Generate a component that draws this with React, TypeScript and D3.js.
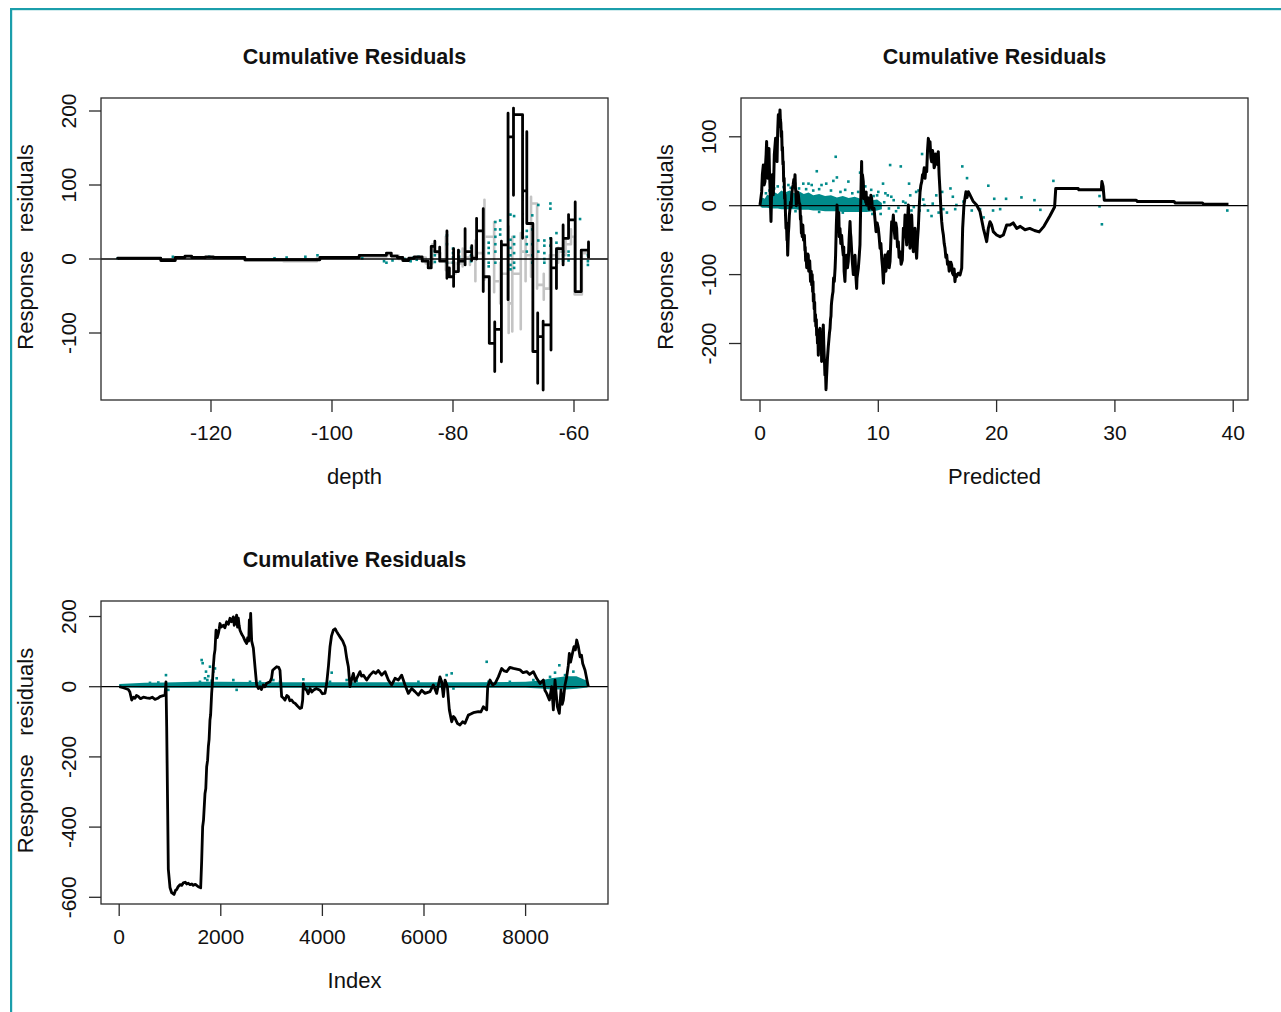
import React from 'react';
import * as d3 from 'd3';

const FONT = '"Liberation Sans", Arial, Helvetica, sans-serif';
const TEAL = '#008b8b';
const FRAME = '#1b9eab';

// ---- panel 1: cumulative residuals vs depth ----
const depthTicks = [-120, -100, -80, -60];
const depthResTicks = [-100, 0, 100, 200];
// [depth, partial sums walked at that depth..., value carried to next depth]
const depthBlack: number[][] = [
  [-135.4, 0, 1], [-128.3, -2], [-125.9, 2], [-124.3, 4], [-123.2, 2], [-120.9, 3],
  [-119.6, 2], [-114.4, -1], [-102.0, 2], [-95.5, 5], [-91.0, 8], [-90.2, 4],
  [-89.2, 2], [-88.3, -2], [-87.3, 1], [-86.4, 3], [-85.1, -3], [-84.1, -12],
  [-83.6, 17], [-83.0, 24, 10], [-82.2, 16, -3], [-81.0, 38, -26, -12], [-80.6, -24],
  [-79.9, 14, -37, -17], [-79.1, 12, -3], [-78.0, 41, -8, 10], [-76.9, 18, -2, 1],
  [-76.1, 55, 0, 38], [-75.0, 68, -44, -24], [-74.0, -114], [-73.1, -152, -85, -95],
  [-72.0, -139, 24, 19], [-70.9, -55, 197, 165], [-70.0, 86, 204, 195], [-68.5, 28, 92],
  [-67.8, 172, 48], [-66.8, -125], [-66.0, -73, -168, -105], [-65.1, -84, -177, -89],
  [-63.8, -123, 28, -12], [-62.9, 14, -40, 14], [-61.8, 46, -8, 28], [-60.9, 60, 53],
  [-59.8, 77, -44], [-58.8, 12], [-57.6, 23, 1],
];
const depthGray: number[][] = [
  [-135.4, 0, 1], [-128.3, -1], [-125.9, 2], [-121.0, 1], [-114.4, -2], [-108.0, -3],
  [-102.5, 1], [-95.5, 3], [-91.0, 5], [-89.0, 0], [-86.5, 2], [-84.5, -6],
  [-83.4, 20, 8], [-82.1, -2], [-81.2, 30, -15, -5], [-79.6, -20, -6], [-78.4, 14, -10, 2],
  [-77.2, -8, 4], [-76.3, 25, -30, 8], [-74.8, 80, -28, 30], [-73.2, 50, -45, -30],
  [-72.2, -5, -60, -20], [-70.8, 44, -100, -60], [-70.2, 30, -98, -20], [-68.8, 35, -95, 10],
  [-68.0, 30, -30, 5], [-67.1, 84, -24, 75], [-66.1, -10, -40, -35], [-65.0, -20, -55, -40],
  [-64.0, -15, 5], [-62.6, 15, -5, 10], [-61.4, 25, 5, 20], [-60.5, 40, 30],
  [-59.9, -48], [-58.7, 8], [-57.6, 20, 0],
];
const depthPoints: [number, number][] = [
  [-135.4, 1], [-126.3, 3], [-120.3, 3], [-109.5, 1], [-107.5, 2], [-104.4, 3], [-102.4, 5],
  [-95.0, 1], [-91.4, -3], [-91.0, -5], [-90.0, -2], [-89.0, 2], [-88.0, 0], [-87.0, -3],
  [-86.5, 2], [-86.0, -1], [-85.7, 3], [-85.0, -2],
  [-83.0, 10], [-83.0, 5], [-83.0, -4], [-81.0, 32], [-81.0, 20], [-81.0, -5],
  [-80.0, 14], [-80.0, 8], [-80.0, 2], [-80.0, -5], [-79.0, 10], [-79.0, 3], [-79.0, -3],
  [-77.0, 15], [-77.0, 5], [-77.0, -3],
  [-74.1, 22], [-74.1, 15], [-74.1, 8], [-74.1, -5], [-74.1, -10],
  [-73.0, 50], [-73.0, 40], [-73.0, 30], [-73.0, 20], [-73.0, 10], [-73.0, -5],
  [-72.2, 52], [-72.2, 40], [-72.2, 33],
  [-70.5, 60], [-70.5, 26], [-70.5, 15], [-70.5, 5], [-70.5, -8], [-70.5, -14],
  [-69.9, 58], [-69.9, 30], [-69.9, 20], [-69.9, 8], [-69.9, -5], [-69.9, -12],
  [-67.8, 38], [-67.8, 30], [-67.8, 20], [-67.8, 10],
  [-66.9, 59], [-66.9, 40], [-66.9, 20], [-66.9, 5], [-66.9, -5],
  [-65.9, 73], [-65.9, 25], [-65.9, 10],
  [-64.9, 25], [-64.9, 18], [-64.9, 8], [-64.9, 0], [-64.9, -5],
  [-63.9, 75], [-63.9, 68], [-63.9, 28], [-63.9, 18],
  [-62.9, 35], [-62.9, 22], [-62.9, 10], [-62.9, 0],
  [-61.8, 10], [-61.8, 5], [-61.8, -2], [-60.9, 10], [-60.9, 5], [-60.9, -2],
  [-59.0, 54], [-57.7, 5], [-57.7, -3], [-57.7, -8],
];

// ---- panel 2: cumulative residuals vs predicted ----
const predTicks = [0, 10, 20, 30, 40];
const predResTicks = [-200, -100, 0, 100];
const predBlack: [number, number][] = [
  [0, 1], [0.07, 10], [0.14, 20], [0.2, 45], [0.28, 59], [0.32, 40], [0.35, 30], [0.42, 35],
  [0.47, 60], [0.52, 75], [0.56, 93], [0.6, 55], [0.65, 40], [0.7, 65], [0.76, 83], [0.8, 50],
  [0.85, 25], [0.89, 0], [0.93, -23], [0.98, 20], [1.04, 45], [1.08, 30], [1.13, 16],
  [1.17, 45], [1.21, 74], [1.26, 85], [1.32, 98], [1.38, 70], [1.44, 64], [1.47, 90],
  [1.5, 110], [1.55, 132], [1.58, 118], [1.62, 115], [1.66, 130], [1.69, 139], [1.72, 125],
  [1.76, 120], [1.8, 100], [1.83, 108], [1.87, 80], [1.9, 85], [1.94, 60], [1.97, 64],
  [2.0, 35], [2.04, 40], [2.08, 10], [2.11, 16], [2.16, -15], [2.2, -33], [2.24, -25],
  [2.28, -50], [2.31, -45], [2.34, -72], [2.37, -55], [2.4, -40], [2.44, -30], [2.48, -14],
  [2.53, -5], [2.58, 5], [2.63, -2], [2.68, 16], [2.74, 25], [2.8, 30], [2.86, 38],
  [2.9, 28], [2.96, 45], [3.0, 25], [3.03, 20], [3.07, 0], [3.1, 6], [3.17, 20], [3.24, 16],
  [3.3, 5], [3.38, 1], [3.42, -20], [3.45, -15], [3.5, -40], [3.52, -33], [3.57, -45],
  [3.62, -28], [3.68, -50], [3.75, -43], [3.8, -65], [3.82, -60], [3.86, -80], [3.89, -72],
  [3.95, -90], [4.0, -80], [4.04, -70], [4.08, -72], [4.12, -95], [4.15, -88], [4.2, -80],
  [4.23, -91], [4.27, -110], [4.3, -105], [4.33, -95], [4.37, -115], [4.41, -100],
  [4.45, -125], [4.48, -110], [4.51, -139], [4.55, -128], [4.58, -150], [4.62, -140],
  [4.65, -168], [4.69, -158], [4.72, -175], [4.76, -165], [4.79, -188], [4.83, -180],
  [4.86, -200], [4.9, -190], [4.93, -217], [4.97, -195], [5.0, -205], [5.04, -180],
  [5.07, -178], [5.11, -200], [5.14, -205], [5.18, -185], [5.21, -226], [5.25, -210],
  [5.28, -200], [5.32, -190], [5.35, -173], [5.39, -200], [5.42, -215], [5.46, -230],
  [5.49, -246], [5.53, -235], [5.58, -267], [5.62, -250], [5.65, -240], [5.69, -225],
  [5.72, -217], [5.77, -205], [5.82, -195], [5.87, -185], [5.92, -178], [5.96, -165],
  [6.0, -160], [6.03, -145], [6.06, -139], [6.12, -130], [6.17, -125], [6.22, -105],
  [6.28, -110], [6.35, -90], [6.39, -72], [6.45, -30], [6.51, 1], [6.56, -15], [6.62, -23],
  [6.66, -10], [6.7, -45], [6.76, -33], [6.83, -55], [6.9, -43], [6.97, -60], [7.04, -72],
  [7.08, -60], [7.11, -95], [7.18, -110], [7.22, -90], [7.25, -85], [7.32, -72], [7.39, -90],
  [7.46, -81], [7.53, -50], [7.61, -23], [7.65, -40], [7.68, -45], [7.75, -67], [7.82, -85],
  [7.89, -100], [7.93, -85], [7.96, -80], [8.03, -72], [8.1, -100], [8.17, -120], [8.2, -105],
  [8.24, -100], [8.31, -91], [8.38, -75], [8.45, -57], [8.52, 10], [8.59, 64], [8.62, 30],
  [8.66, 45], [8.73, 35], [8.77, 10], [8.8, 20], [8.87, 16], [8.94, 5], [8.97, 20],
  [9.01, 1], [9.08, 12], [9.15, 11], [9.22, -5], [9.3, 1], [9.37, 15],
  [9.44, 10.6], [9.5, -5], [9.64, -3.9], [9.72, -20], [9.81, -37.7], [9.9, -25], [10.0, -32.8],
  [10.07, -45], [10.15, -61.8], [10.22, -55], [10.29, -76.3], [10.36, -90], [10.43, -112.6],
  [10.5, -85], [10.57, -71.5], [10.64, -95], [10.71, -86], [10.78, -70], [10.85, -66.7],
  [10.92, -90], [10.99, -81.2], [11.06, -50], [11.13, -23.2], [11.2, -30], [11.27, -13.5],
  [11.34, -35], [11.41, -47.3], [11.48, -25], [11.55, -32.8], [11.62, -60], [11.69, -52.2],
  [11.76, -75], [11.84, -66.7], [11.93, -85], [12.03, -78.8], [12.12, -32.8], [12.19, -45],
  [12.26, -13.5], [12.33, -40], [12.4, -57], [12.47, -20], [12.54, 1], [12.61, -30],
  [12.68, -61.8], [12.75, -35], [12.82, -13.5], [12.89, -45], [12.96, -66.7], [13.03, -45],
  [13.1, -32.8], [13.17, -60], [13.24, -76.3], [13.31, -50], [13.38, -32.8], [13.45, -5],
  [13.53, 20.3], [13.6, 30], [13.67, 34.8], [13.74, 45], [13.81, 44.5], [13.88, 55],
  [13.95, 39.7], [14.02, 55], [14.09, 49.4], [14.16, 80], [14.23, 97.7], [14.3, 85],
  [14.37, 92.9], [14.44, 70], [14.51, 63.9], [14.58, 80], [14.65, 73.6], [14.72, 55],
  [14.79, 59.1], [14.86, 75], [14.93, 63.9], [15.0, 60], [15.07, 78.4], [15.14, 45],
  [15.22, 20.3], [15.29, -5], [15.36, -23.2], [15.43, -35], [15.5, -42.5], [15.57, -55],
  [15.64, -61.8], [15.71, -75], [15.78, -71.5], [15.85, -85], [15.92, -81.2], [15.99, -95],
  [16.06, -90.8], [16.13, -82], [16.2, -86], [16.27, -98], [16.34, -100.5], [16.41, -92],
  [16.48, -110.2], [16.55, -100], [16.62, -103], [16.76, -98], [16.91, -100.5],
  [17.05, -90.8], [17.13, -32.8], [17.24, 1], [17.32, 10], [17.41, 20.3], [17.5, 12],
  [17.61, 20.3], [17.75, 15.7], [18.03, 6], [18.31, 1], [18.6, -8.7], [18.88, -32.8],
  [19.02, -42.5], [19.16, -52.2], [19.3, -32.8], [19.44, -23.2], [19.58, -28], [19.72, -37.7],
  [20.0, -42.5], [20.29, -45], [20.57, -42.5], [20.85, -28], [21.13, -28], [21.4, -25],
  [21.7, -33], [22.0, -30], [22.4, -35], [22.8, -33], [23.2, -36], [23.6, -38], [24.0, -30],
  [24.5, -15], [24.9, -2], [25.0, 25], [26.9, 25], [26.95, 23], [28.85, 23], [28.9, 35],
  [29.0, 28], [29.1, 8], [31.8, 8], [31.9, 6], [35.0, 6], [35.1, 4], [37.4, 4], [37.5, 2],
  [39.6, 2],
];
// overplotted residual cloud: [predicted, low, high]
const predBand: [number, number, number][] = [
  [0.05, -2, 5], [0.2, -3, 12], [0.4, -3, 10], [0.6, -3, 16], [0.9, -4, 14], [1.2, -4, 20],
  [1.5, -4, 17], [1.8, -5, 22], [2.1, -5, 19], [2.5, -5, 22], [2.9, -5, 18], [3.3, -6, 21],
  [3.7, -6, 17], [4.1, -6, 19], [4.5, -7, 15], [5.0, -7, 17], [5.5, -8, 14], [6.0, -8, 15],
  [6.5, -8, 12], [7.0, -9, 14], [7.5, -9, 11], [8.0, -9, 13], [8.5, -9, 10], [9.0, -9, 12],
  [9.5, -8, 8], [9.9, -7, 9], [10.3, -5, 4],
];
const predPoints: [number, number][] = [
  [0.5, 18], [0.8, 22], [1.2, 25], [1.5, 28], [1.83, 17], [2.0, 27], [2.4, 30], [2.6, 26],
  [2.96, 32], [3.3, 25], [3.66, 32], [3.9, 24], [4.1, 32], [4.37, 30], [4.5, 22], [4.8, 50],
  [5.0, 24], [5.2, 30], [5.6, 32], [6.0, 22], [6.2, 36], [6.4, 71], [6.5, 41], [6.8, 20],
  [7.2, 23], [7.47, 35], [7.8, 18], [8.3, 20], [8.46, 48], [8.9, 28], [9.4, 23], [9.6, 14],
  [3.0, -8], [5.0, -9], [7.0, -10], [8.5, -9], [9.5, -12], [9.9, 15], [10.0, 20], [10.2, -12],
  [10.4, 32], [10.6, 18], [10.8, 15], [11.0, 59], [11.1, 13], [11.5, -8], [11.9, 57],
  [12.1, 6], [12.6, 32], [12.7, 15], [12.8, -7], [13.2, 20], [13.4, 22], [13.5, -7],
  [13.7, 75], [13.9, 1], [14.2, -7], [14.5, -15], [14.9, 15], [15.1, -10], [15.4, 20],
  [15.5, -5], [15.8, -10], [16.1, 25], [16.3, 13], [16.5, -5], [16.6, 1], [17.1, 57],
  [17.2, 6], [17.5, 40], [17.9, -7], [18.6, -5], [18.9, -17], [19.3, 29], [19.7, -7],
  [19.8, 10], [20.3, -5], [20.8, 10], [22.1, 12], [23.2, 8], [23.7, -6], [24.8, 36],
  [28.7, 14], [28.7, -1], [28.9, -27], [39.5, -7],
  [10.5, 5], [10.9, -4], [11.3, 8], [11.7, -3], [12.3, 4], [13.0, -2], [13.8, 9], [14.6, 3],
];

// ---- panel 3: cumulative residuals vs index ----
const indexTicks = [0, 2000, 4000, 6000, 8000];
const indexResTicks = [-600, -400, -200, 0, 200];
const indexBlack: [number, number][] = [
  [3, 0], [82, -3], [180, -8], [210, -15], [246, -38], [280, -30], [311, -33], [340, -25],
  [377, -28], [420, -34], [475, -30], [540, -32], [606, -33], [650, -30], [705, -36],
  [760, -33], [803, -28], [850, -26], [902, -24], [921, 14], [935, -114], [954, -349],
  [967, -520], [1000, -572], [1033, -587], [1079, -592], [1110, -580], [1131, -578],
  [1160, -570], [1197, -564], [1230, -566], [1263, -559], [1300, -557], [1328, -562],
  [1360, -560], [1394, -564], [1430, -562], [1459, -566], [1500, -563], [1558, -570],
  [1604, -573], [1623, -499], [1643, -399], [1660, -380], [1689, -304], [1705, -290],
  [1722, -228], [1740, -210], [1755, -171], [1770, -150], [1787, -95], [1800, -80],
  [1820, -19], [1835, 10], [1853, 57], [1870, 90], [1886, 105], [1906, 161], [1930, 140],
  [1952, 152], [1970, 165], [1984, 180], [2010, 170], [2050, 175], [2080, 168], [2116, 185],
  [2150, 178], [2181, 195], [2210, 185], [2247, 199], [2265, 175], [2280, 180], [2300, 195],
  [2312, 204], [2330, 170], [2345, 195], [2360, 175], [2378, 161], [2410, 150], [2444, 142],
  [2480, 130], [2509, 123], [2530, 140], [2550, 130], [2562, 190], [2575, 150], [2588, 209],
  [2600, 160], [2608, 130], [2641, 110], [2673, 57], [2706, 5], [2739, -5], [2772, 0],
  [2800, -8], [2837, 5], [2870, 0], [2903, 10], [2969, 14], [3000, 25], [3021, 47],
  [3060, 52], [3100, 57], [3140, 55], [3165, 47], [3198, -28], [3230, -32], [3264, -38],
  [3300, -25], [3330, -28], [3360, -40], [3395, -38], [3430, -45], [3461, -47], [3510, -55],
  [3559, -62], [3590, -60], [3612, -38], [3625, 9], [3650, -5], [3690, -10], [3720, -20],
  [3756, -5], [3790, -15], [3822, -10], [3880, -5], [3953, -10], [4000, -20], [4051, -19],
  [4084, 9], [4120, 60], [4150, 114], [4180, 145], [4215, 161], [4250, 165], [4281, 157],
  [4310, 150], [4346, 142], [4400, 130], [4445, 114], [4480, 80], [4511, 57], [4543, 0],
  [4575, 20], [4609, 38], [4640, 15], [4675, 24], [4740, 43], [4770, 30], [4806, 33],
  [4872, 19], [4937, 33], [5003, 43], [5050, 38], [5101, 46], [5167, 33], [5233, 43],
  [5298, 19], [5364, 5], [5429, 24], [5495, 19], [5561, 33], [5626, 5], [5692, -19],
  [5758, -5], [5823, -14], [5889, -24], [5955, -10], [6020, -19], [6118, -14], [6184, 5],
  [6250, -19], [6315, 28], [6348, 14], [6381, -28], [6414, 19], [6460, 0], [6499, -66],
  [6545, -100], [6580, -85], [6611, -90], [6660, -105], [6709, -109], [6760, -100],
  [6807, -104], [6873, -81], [6920, -78], [6971, -74], [7070, -71], [7120, -72],
  [7168, -57], [7234, -66], [7254, 0], [7300, 19], [7350, 5], [7398, 9], [7464, 28],
  [7529, 52], [7580, 45], [7628, 43], [7690, 55], [7759, 52], [7890, 48], [7950, 40],
  [8022, 43], [8080, 35], [8153, 43], [8218, 24], [8284, 9], [8350, 19], [8380, -10],
  [8415, -19], [8468, -38], [8514, 0], [8546, -66], [8579, 19], [8625, -57], [8664, -76],
  [8697, -9], [8720, -50], [8743, -38], [8776, 5], [8809, 28], [8840, 60], [8861, 95],
  [8885, 70], [8907, 85], [8930, 100], [8953, 114], [8980, 105], [9006, 133], [9039, 114],
  [9072, 85], [9100, 90], [9124, 66], [9170, 47], [9235, 0],
];
const indexBand: [number, number, number][] = [
  [0, -2, 8], [500, -3, 11], [900, -3, 12], [1500, -3, 14], [2000, -3, 14], [3000, -3, 13],
  [4000, -3, 13], [5000, -3, 13], [6000, -3, 13], [7000, -3, 13], [8000, -3, 14],
  [8300, -5, 18], [8500, -8, 24], [8800, -8, 30], [9000, -6, 30], [9220, -2, 16],
];
const indexPoints: [number, number][] = [
  [606, 11], [770, 12], [921, 33], [967, -9], [1590, 14], [1623, 76], [1643, 67], [1689, 24],
  [1709, 43], [1735, 19], [1755, 30], [1787, 57], [1820, 17], [1853, 43], [1886, 52],
  [1919, 24], [2247, 19], [2312, -9], [2575, 14], [2772, 14], [3034, 19], [3165, 14],
  [3625, 21], [3690, -5], [4150, 14], [4183, 40], [4478, 19], [4675, 17], [5890, 14],
  [6446, 33], [6545, 38], [6580, -5], [7234, 71], [7270, 14], [7690, 14], [8153, 19],
  [8481, 28], [8579, 40], [8664, 61], [8776, 33], [8940, 43], [9072, 14],
];

type Scale = d3.ScaleLinear<number, number>;

const stepPoints = (rows: number[][]) => {
  const pts: [number, number][] = [];
  let prev: number | null = null;
  rows.forEach(([d, ...vals]) => {
    if (prev !== null) pts.push([d, prev]);
    vals.forEach((v) => pts.push([d, v]));
    prev = vals[vals.length - 1];
  });
  return pts;
};

const pathOf = (pts: [number, number][], x: Scale, y: Scale) =>
  d3.line<[number, number]>().x((p) => x(p[0])).y((p) => y(p[1]))(pts) || '';

const bandOf = (rows: [number, number, number][], x: Scale, y: Scale) =>
  d3.area<[number, number, number]>()
    .x((r) => x(r[0]))
    .y0((r) => y(r[1]))
    .y1((r) => y(r[2]))(rows) || '';

const Dots = ({ pts, x, y }: { pts: [number, number][]; x: Scale; y: Scale }) => (
  <g fill={TEAL}>
    {pts.map((p, i) => (
      <rect key={i} x={x(p[0]) - 1.3} y={y(p[1]) - 1.3} width={2.6} height={2.6} />
    ))}
  </g>
);

type PanelProps = {
  left: number; top: number; right: number; bottom: number;
  xDomain: [number, number]; yDomain: [number, number];
  xTicks: number[]; yTicks: number[]; xLabel: string;
  draw: (x: Scale, y: Scale) => React.ReactNode;
};

const Panel = ({ left, top, right, bottom, xDomain, yDomain, xTicks, yTicks, xLabel, draw }: PanelProps) => {
  const x = d3.scaleLinear().domain(xDomain).range([left, right]);
  const y = d3.scaleLinear().domain(yDomain).range([bottom, top]);
  const cx = (left + right) / 2;
  const cy = (top + bottom) / 2;
  const tick = 12;
  return (
    <g fontFamily={FONT} fill="#111">
      {draw(x, y)}
      <rect x={left} y={top} width={right - left} height={bottom - top} fill="none" stroke="#2a2a2a" strokeWidth={1.3} />
      {xTicks.map((t) => (
        <g key={'x' + t}>
          <line x1={x(t)} x2={x(t)} y1={bottom} y2={bottom + tick} stroke="#2a2a2a" strokeWidth={1.3} />
          <text x={x(t)} y={bottom + 40} textAnchor="middle" fontSize={21}>{t}</text>
        </g>
      ))}
      {yTicks.map((t) => (
        <g key={'y' + t}>
          <line x1={left - tick} x2={left} y1={y(t)} y2={y(t)} stroke="#2a2a2a" strokeWidth={1.3} />
          <text transform={`translate(${left - 25},${y(t)}) rotate(-90)`} textAnchor="middle" fontSize={21}>{t}</text>
        </g>
      ))}
      <text x={cx} y={top - 34.5} textAnchor="middle" fontSize={21.5} fontWeight="bold">Cumulative Residuals</text>
      <text x={cx} y={bottom + 84} textAnchor="middle" fontSize={22}>{xLabel}</text>
      <text transform={`translate(${left - 68},${cy - 2}) rotate(-90)`} textAnchor="middle" fontSize={22}
        xmlSpace="preserve" style={{ whiteSpace: 'pre' }}>{'Response   residuals'}</text>
    </g>
  );
};

const zeroLine = (x: Scale, y: Scale) => (
  <line x1={x.range()[0]} x2={x.range()[1]} y1={y(0)} y2={y(0)} stroke="#000" strokeWidth={1.3} />
);

export default function App() {
  return (
    <svg width={1281} height={1012} style={{ position: 'absolute', left: 0, top: 0, background: '#fff' }}>
      <rect x={0} y={0} width={1281} height={1012} fill="#fff" />
      <rect x={10} y={8} width={2.2} height={1004} fill={FRAME} />
      <rect x={10} y={8} width={1271} height={2.2} fill={FRAME} />

      <Panel left={101} top={98} right={608} bottom={400}
        xDomain={[-138.18, -54.38]} yDomain={[-190.54, 217.57]}
        xTicks={depthTicks} yTicks={depthResTicks} xLabel="depth"
        draw={(x, y) => (
          <g>
            <path d={pathOf(stepPoints(depthGray), x, y)} fill="none" stroke="#c4c4c4" strokeWidth={2.6} strokeLinejoin="round" />
            <Dots pts={depthPoints} x={x} y={y} />
            {zeroLine(x, y)}
            <path d={pathOf(stepPoints(depthBlack), x, y)} fill="none" stroke="#000" strokeWidth={2.8} strokeLinejoin="round" />
          </g>
        )} />

      <Panel left={741} top={98} right={1248} bottom={400}
        xDomain={[-1.606, 41.25]} yDomain={[-282.0, 156.3]}
        xTicks={predTicks} yTicks={predResTicks} xLabel="Predicted"
        draw={(x, y) => (
          <g>
            <path d={bandOf(predBand, x, y)} fill={TEAL} />
            <Dots pts={predPoints} x={x} y={y} />
            {zeroLine(x, y)}
            <path d={pathOf(predBlack, x, y)} fill="none" stroke="#000" strokeWidth={3} strokeLinejoin="round" />
          </g>
        )} />

      <Panel left={101} top={601} right={608} bottom={904}
        xDomain={[-358, 9622]} yDomain={[-619.1, 244.2]}
        xTicks={indexTicks} yTicks={indexResTicks} xLabel="Index"
        draw={(x, y) => (
          <g>
            <path d={bandOf(indexBand, x, y)} fill={TEAL} />
            <Dots pts={indexPoints} x={x} y={y} />
            {zeroLine(x, y)}
            <path d={pathOf(indexBlack, x, y)} fill="none" stroke="#000" strokeWidth={2.8} strokeLinejoin="round" />
          </g>
        )} />
    </svg>
  );
}
